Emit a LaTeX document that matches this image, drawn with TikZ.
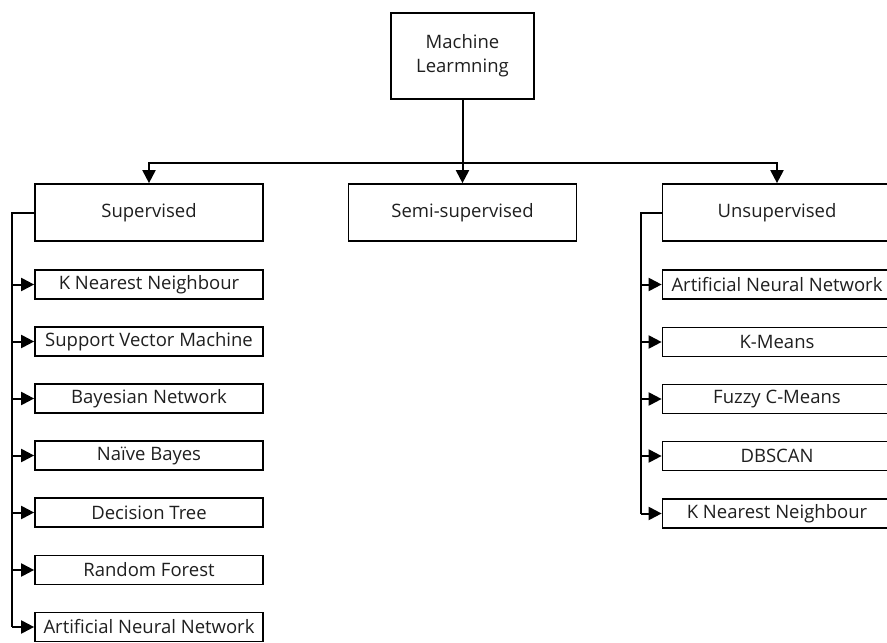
\documentclass[tikz,border=0pt]{standalone}
\usepackage{fontspec}
\setmainfont{Open Sans}
\usetikzlibrary{arrows.meta}

\tikzset{
  box/.style={draw=black, line width=1.7pt, fill=white, inner sep=0pt,
              font=\fontsize{18.5}{24}\selectfont, text=black!88, align=center},
  bigbox/.style={box, minimum width=228pt, minimum height=57pt},
  leaf/.style={box, minimum width=228pt, minimum height=29pt},
  link/.style={line width=2pt, draw=black},
  arr/.style={link, -{Triangle[length=13pt, width=13pt]}}
}

\begin{document}
\begin{tikzpicture}[x=1pt, y=-1pt]
  \useasboundingbox (0,0) rectangle (887,643);
  \clip (0,0) rectangle (887,643);

  % root
  \node[box, minimum width=143pt, minimum height=86pt] (ml) at (462.5,56)
    {Machine\\Learmning};

  % three branches
  \node[bigbox] (sup)   at (149,212.5)   {Supervised};
  \node[bigbox] (semi)  at (462.5,212.5) {Semi-supervised};
  \node[bigbox, minimum width=229pt] (unsup) at (777,212.5) {Unsupervised};

  % root-to-branch connectors
  \coordinate (bus) at (462.5,163);
  \draw[link] (ml.south) -- (bus);
  \draw[arr] (bus) -| (sup.north);
  \draw[arr] (bus) -- (semi.north);
  \draw[arr] (bus) -| (unsup.north);

  % supervised methods
  \foreach \name/\y/\txt in {
      s1/284.5/K Nearest Neighbour,
      s2/341.5/Support Vector Machine,
      s3/398.5/Bayesian Network,
      s4/455.5/Naïve Bayes,
      s5/512.5/Decision Tree,
      s6/570/Random Forest,
      s7/627/Artificial Neural Network}
    \node[leaf] (\name) at (149,\y) {\txt};

  \coordinate (lbus) at (12,212.5);
  \draw[link] (sup.west) -- (lbus) -- (lbus |- s7.west);
  \foreach \name in {s1,s2,s3,s4,s5,s6,s7}
    \draw[arr] (lbus |- \name.west) -- (\name.west);

  % unsupervised methods
  \foreach \name/\y/\txt in {
      u1/284.5/Artificial Neural Network,
      u2/342/K-Means,
      u3/399/Fuzzy C-Means,
      u4/456/DBSCAN,
      u5/513.5/K Nearest Neighbour}
    \node[leaf, minimum width=229pt] (\name) at (777,\y) {\txt};

  \coordinate (rbus) at (641,212.5);
  \draw[link] (unsup.west) -- (rbus) -- (rbus |- u5.west);
  \foreach \name in {u1,u2,u3,u4,u5}
    \draw[arr] (rbus |- \name.west) -- (\name.west);
\end{tikzpicture}
\end{document}
